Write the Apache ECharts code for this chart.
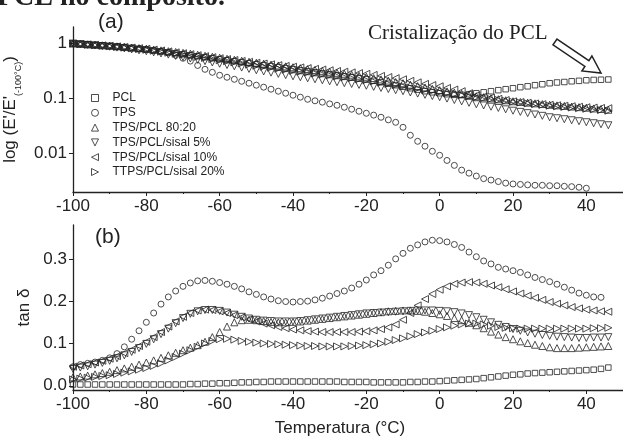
<!DOCTYPE html>
<html><head><meta charset="utf-8">
<script src="https://cdn.jsdelivr.net/npm/echarts@6/dist/echarts.min.js"></script>
<style>html,body{margin:0;padding:0;background:#fff}#c{width:623px;height:436px}</style>
</head><body><div id="c"></div>
<script>
// Temperature (°C) of each measured point
const temps = [-100,-98,-96,-94,-92,-90,-88,-86,-84,-82,-80,-78,-76,-74,-72,-70,-68,-66,-64,-62,-60,-58,-56,-54,-52,-50,-48,-46,-44,-42,-40,-38,-36,-34,-32,-30,-28,-26,-24,-22,-20,-18,-16,-14,-12,-10,-8,-6,-4,-2,0,2,4,6,8,10,12,14,16,18,20,22,24,26,28,30,32,34,36,38,40,42,44,46];
const seriesNames = ['PCL','TPS','TPS/PCL 80:20','TPS/PCL/sisal 5%','TPS/PCL/sisal 10%','TTPS/PCL/sisal 20%'];
const xTickLabels = [-100,-80,-60,-40,-20,0,20,40];
const tanTickValues = [0,0.1,0.2,0.3];

// (a) E'/E'(-100°C)
const ratioPCL = [1.0,0.985,0.96,0.945,0.925,0.90,0.88,0.857,0.83,0.80,0.78,0.75,0.724,0.695,0.666,0.639,0.613,0.588,0.564,0.541,0.518,0.497,0.477,0.457,0.438,0.42,0.403,0.387,0.371,0.356,0.341,0.327,0.314,0.301,0.288,0.277,0.265,0.254,0.244,0.234,0.224,0.21,0.198,0.186,0.175,0.164,0.154,0.145,0.136,0.13,0.125,0.12,0.117,0.117,0.12,0.125,0.13,0.136,0.142,0.148,0.154,0.161,0.167,0.175,0.182,0.19,0.196,0.20,0.206,0.21,0.215,0.218,0.22,0.222];
const ratioTPS = [1.00,0.99,0.97,0.95,0.93,0.91,0.89,0.87,0.84,0.81,0.79,0.755,0.72,0.68,0.61,0.54,0.48,0.40,0.34,0.30,0.265,0.244,0.224,0.206,0.19,0.175,0.161,0.148,0.136,0.125,0.115,0.106,0.097,0.091,0.086,0.080,0.0755,0.0695,0.064,0.0588,0.054,0.050,0.0457,0.041,0.037,0.030,0.0215,0.0167,0.0136,0.011,0.0093,0.0075,0.0061,0.0050,0.0044,0.0039,0.0035,0.0033,0.0031,0.0029,0.0028,0.00275,0.0027,0.00265,0.00265,0.0026,0.0026,0.00254,0.0025,0.00244,0.00234,null,null,null];
const ratioBlend = [1.000,0.983,0.963,0.947,0.927,0.912,0.889,0.867,0.846,0.825,0.804,0.778,0.752,0.727,0.704,0.680,0.653,0.626,0.600,0.575,0.552,0.529,0.507,0.487,0.467,0.448,0.431,0.415,0.400,0.385,0.371,0.357,0.344,0.331,0.319,0.307,0.294,0.282,0.271,0.260,0.249,0.236,0.223,0.212,0.200,0.190,0.179,0.169,0.159,0.150,0.142,0.135,0.128,0.122,0.116,0.110,0.106,0.101,0.0971,0.0931,0.0893,0.0868,0.0842,0.0818,0.0795,0.0772,0.0752,0.0734,0.0716,0.0698,0.0681,0.0661,0.0645,0.0626];
const ratioSisal5 = [1.0,0.973,0.947,0.922,0.898,0.875,0.844,0.813,0.781,0.752,0.724,0.691,0.66,0.63,0.597,0.564,0.535,0.506,0.479,0.453,0.429,0.407,0.386,0.366,0.346,0.327,0.311,0.296,0.281,0.267,0.254,0.244,0.234,0.224,0.215,0.206,0.198,0.191,0.184,0.177,0.171,0.163,0.156,0.149,0.142,0.136,0.129,0.123,0.117,0.111,0.106,0.0998,0.094,0.0889,0.0837,0.0788,0.0749,0.0711,0.0675,0.0637,0.0601,0.0572,0.0543,0.0513,0.0485,0.0457,0.0439,0.0421,0.0403,0.0387,0.0371,0.0356,0.0341,0.0327];
const ratioSisal10 = [1.0,0.982,0.964,0.946,0.929,0.912,0.889,0.867,0.845,0.824,0.804,0.776,0.749,0.72,0.692,0.666,0.64,0.614,0.589,0.565,0.541,0.521,0.502,0.483,0.465,0.448,0.433,0.419,0.405,0.392,0.379,0.368,0.358,0.347,0.337,0.327,0.317,0.308,0.299,0.29,0.282,0.269,0.258,0.246,0.235,0.224,0.21,0.197,0.185,0.176,0.167,0.156,0.146,0.136,0.125,0.115,0.109,0.104,0.099,0.094,0.089,0.0865,0.084,0.0815,0.079,0.077,0.0755,0.074,0.0725,0.071,0.0695,0.0685,0.0675,0.0667];
const ratioSisal20 = [1.0,0.977,0.955,0.934,0.913,0.893,0.868,0.843,0.819,0.795,0.771,0.741,0.711,0.682,0.654,0.626,0.6,0.573,0.547,0.522,0.497,0.476,0.455,0.435,0.415,0.395,0.379,0.364,0.349,0.334,0.320,0.308,0.297,0.286,0.275,0.265,0.254,0.244,0.234,0.224,0.215,0.205,0.195,0.185,0.176,0.167,0.159,0.151,0.144,0.137,0.130,0.125,0.12,0.115,0.11,0.106,0.102,0.098,0.0945,0.091,0.0875,0.0847,0.082,0.0793,0.0767,0.0741,0.0723,0.0705,0.0687,0.0669,0.0652,0.0635,0.0618,0.0601];

// (b) tan delta
const tanPCL = [0.003,0.003,0.003,0.003,0.003,0.003,0.003,0.003,0.003,0.003,0.003,0.003,0.003,0.003,0.003,0.003,0.004,0.004,0.005,0.005,0.006,0.006,0.007,0.008,0.008,0.009,0.009,0.01,0.01,0.01,0.01,0.01,0.01,0.01,0.01,0.01,0.01,0.009,0.009,0.009,0.009,0.008,0.008,0.008,0.008,0.008,0.009,0.009,0.01,0.01,0.011,0.012,0.013,0.014,0.015,0.016,0.018,0.02,0.022,0.024,0.026,0.027,0.029,0.03,0.031,0.032,0.033,0.034,0.035,0.036,0.037,0.038,0.04,0.043];
const tanTPS = [0.045,0.05,0.053,0.056,0.06,0.066,0.076,0.092,0.11,0.13,0.15,0.172,0.193,0.21,0.224,0.235,0.243,0.248,0.249,0.247,0.244,0.24,0.235,0.229,0.222,0.216,0.21,0.205,0.201,0.199,0.198,0.199,0.2,0.203,0.207,0.212,0.218,0.224,0.231,0.24,0.25,0.262,0.272,0.285,0.3,0.313,0.325,0.333,0.34,0.344,0.343,0.34,0.334,0.327,0.316,0.305,0.295,0.288,0.28,0.276,0.272,0.268,0.262,0.256,0.251,0.246,0.24,0.233,0.226,0.219,0.214,0.21,0.209,null];
const tanBlend = [0.02,0.022,0.024,0.027,0.03,0.033,0.037,0.041,0.045,0.05,0.055,0.06,0.066,0.072,0.078,0.084,0.09,0.096,0.104,0.115,0.127,0.14,0.15,0.155,0.156,0.155,0.153,0.151,0.15,0.15,0.151,0.152,0.154,0.156,0.158,0.16,0.162,0.164,0.166,0.168,0.17,0.172,0.174,0.176,0.177,0.178,0.178,0.177,0.175,0.172,0.169,0.165,0.16,0.155,0.149,0.143,0.136,0.128,0.121,0.115,0.11,0.105,0.101,0.097,0.094,0.091,0.089,0.089,0.089,0.09,0.091,0.092,0.093,0.094];
const tanSisal5 = [0.04,0.043,0.046,0.05,0.054,0.059,0.065,0.072,0.08,0.089,0.099,0.11,0.122,0.135,0.148,0.16,0.17,0.176,0.179,0.179,0.177,0.173,0.168,0.163,0.159,0.156,0.154,0.153,0.152,0.152,0.152,0.153,0.155,0.157,0.159,0.161,0.163,0.165,0.167,0.169,0.171,0.172,0.173,0.174,0.175,0.176,0.177,0.178,0.178,0.178,0.177,0.176,0.174,0.171,0.167,0.162,0.156,0.15,0.144,0.139,0.134,0.13,0.126,0.123,0.12,0.118,0.116,0.115,0.114,0.113,0.113,0.114,0.114,0.115];
const tanSisal10 = [0.045,0.048,0.051,0.055,0.059,0.064,0.07,0.077,0.085,0.094,0.104,0.115,0.127,0.14,0.152,0.163,0.172,0.178,0.18,0.179,0.176,0.172,0.167,0.162,0.157,0.152,0.147,0.143,0.139,0.136,0.133,0.131,0.129,0.128,0.127,0.127,0.127,0.127,0.127,0.128,0.129,0.131,0.134,0.138,0.145,0.156,0.172,0.19,0.205,0.217,0.227,0.235,0.241,0.244,0.245,0.244,0.241,0.237,0.233,0.228,0.223,0.218,0.213,0.208,0.203,0.198,0.194,0.19,0.186,0.183,0.18,0.178,0.176,0.175];
const tanSisal20 = [0.015,0.017,0.019,0.021,0.023,0.025,0.028,0.031,0.034,0.038,0.042,0.047,0.053,0.06,0.068,0.076,0.084,0.092,0.1,0.106,0.11,0.111,0.109,0.106,0.104,0.102,0.1,0.099,0.098,0.097,0.096,0.095,0.094,0.094,0.093,0.093,0.093,0.093,0.094,0.095,0.096,0.098,0.1,0.104,0.108,0.112,0.117,0.122,0.126,0.13,0.134,0.138,0.142,0.145,0.147,0.147,0.145,0.142,0.139,0.137,0.136,0.135,0.135,0.135,0.135,0.135,0.135,0.135,0.135,0.135,0.135,0.136,0.136,0.137];

const ratioSets = [ratioPCL, ratioTPS, ratioBlend, ratioSisal5, ratioSisal10, ratioSisal20];
const tanSets = [tanPCL, tanTPS, tanBlend, tanSisal5, tanSisal10, tanSisal20];

const markerStyles = [
  {symbol:'rect', size:5.5, rotate:0, icon:'rect'},
  {symbol:'circle', size:6, rotate:0, icon:'circle'},
  {symbol:'triangle', size:7, rotate:0, icon:'path://M0,10L5,0L10,10Z'},
  {symbol:'triangle', size:7, rotate:180, icon:'path://M0,0L10,0L5,10Z'},
  {symbol:'triangle', size:7, rotate:90, icon:'path://M10,0L10,10L0,5Z'},
  {symbol:'triangle', size:7, rotate:-90, icon:'path://M0,0L0,10L10,5Z'}
];

const ink = '#222';
const font = 'Liberation Sans';

function pairs(vals){
  const out = [];
  vals.forEach((v,i)=>{ if(v!==null && v!==undefined) out.push([temps[i], v]); });
  return out;
}

const series = [];
seriesNames.forEach((name,i)=>{
  const m = markerStyles[i];
  const base = {type:'scatter', name:name, symbol:m.symbol, symbolSize:m.size, symbolRotate:m.rotate,
    itemStyle:{color:'rgba(255,255,255,0)', borderColor:ink, borderWidth:1}, emphasis:{disabled:true}, silent:true};
  series.push(Object.assign({}, base, {xAxisIndex:0, yAxisIndex:0, data:pairs(ratioSets[i])}));
  series.push(Object.assign({}, base, {xAxisIndex:1, yAxisIndex:1, data:pairs(tanSets[i])}));
});

function xAxisCfg(grid, withName){
  const a = {type:'value', gridIndex:grid, min:-100, max:50, interval:20,
    axisLine:{show:true, onZero:false, lineStyle:{color:ink, width:1.3}},
    axisTick:{show:true, length:4, lineStyle:{color:ink, width:1}},
    minorTick:{show:true, splitNumber:2, length:2, lineStyle:{color:ink, width:1}},
    axisLabel:{fontSize:17, color:ink, fontFamily:font, margin:6, showMaxLabel:false,
      formatter:v=> xTickLabels.indexOf(v)>=0 ? String(v) : ''},
    splitLine:{show:false}};
  if(withName){
    a.name = 'Temperatura (°C)';
    a.nameLocation = 'middle';
    a.nameGap = 30;
    a.nameTextStyle = {fontSize:17, color:ink, fontFamily:font, padding:[0,16,0,0]};
  }
  return a;
}

const option = {
  animation:false,
  backgroundColor:'#fff',
  textStyle:{fontFamily:font},
  grid:[
    {left:73, right:0, top:27, height:165, outerBoundsMode:'none'},
    {left:73, right:0, top:225, height:165, outerBoundsMode:'none'}
  ],
  xAxis:[xAxisCfg(0,false), xAxisCfg(1,true)],
  yAxis:[
    {type:'log', logBase:10, gridIndex:0, min:0.002, max:2,
      axisLine:{show:true, onZero:false, lineStyle:{color:ink, width:1.3}},
      axisTick:{show:true, length:4, lineStyle:{color:ink}},
      axisLabel:{fontSize:17, color:ink, fontFamily:font, margin:6, showMinLabel:false, showMaxLabel:false},
      splitLine:{show:false},
      name:"log (E'/E'{sub|(-100°C)})", nameLocation:'middle', nameRotate:90, nameGap:34,
      nameTextStyle:{fontSize:17, color:ink, fontFamily:font,
        rich:{sub:{fontSize:9, color:ink, fontFamily:font, padding:[16,0,0,0]}}}
    },
    {type:'value', gridIndex:1, min:-0.01, max:0.38,
      axisLine:{show:true, onZero:false, lineStyle:{color:ink, width:1.3}},
      axisTick:{show:true, length:4, lineStyle:{color:ink}, customValues:tanTickValues},
      axisLabel:{fontSize:17, color:ink, fontFamily:font, margin:6, customValues:tanTickValues,
        formatter:v=>Number(v).toFixed(1)},
      splitLine:{show:false},
      name:'tan δ', nameLocation:'middle', nameRotate:90, nameGap:38,
      nameTextStyle:{fontSize:17, color:ink, fontFamily:font}
    }
  ],
  legend:{
    data:seriesNames.map((n,i)=>({name:n, icon:markerStyles[i].icon})),
    orient:'vertical', left:86, top:87,
    itemWidth:7, itemHeight:7, itemGap:2.8, selectedMode:false,
    itemStyle:{color:'rgba(255,255,255,0)', borderColor:ink, borderWidth:1},
    textStyle:{fontSize:12, lineHeight:12, color:ink, fontFamily:font, padding:[0,0,0,9]}
  },
  graphic:[
    {type:'text', x:-3, y:-2, style:{text:'PCL no compósito.', font:'bold 28px "Liberation Serif"', fill:ink, verticalAlign:'middle'}},
    {type:'text', x:98, y:22, style:{text:'(a)', font:'21px "Liberation Sans"', fill:ink, verticalAlign:'middle'}},
    {type:'text', x:95, y:237, style:{text:'(b)', font:'21px "Liberation Sans"', fill:ink, verticalAlign:'middle'}},
    {type:'text', x:368, y:33, style:{text:'Cristalização do PCL', font:'21px "Liberation Serif"', fill:ink, verticalAlign:'middle'}},
    {type:'polygon', shape:{points:[[557.0,39.1],[588.9,60.6],[591.9,56.0],[601,73],[581.9,71.0],[584.9,66.4],[553.0,44.9]]},
      style:{fill:'#fff', stroke:ink, lineWidth:1.5}}
  ],
  series:series
};

const chart = echarts.init(document.getElementById('c'), null, {renderer:'canvas'});
chart.setOption(option);
</script>
</body></html>
